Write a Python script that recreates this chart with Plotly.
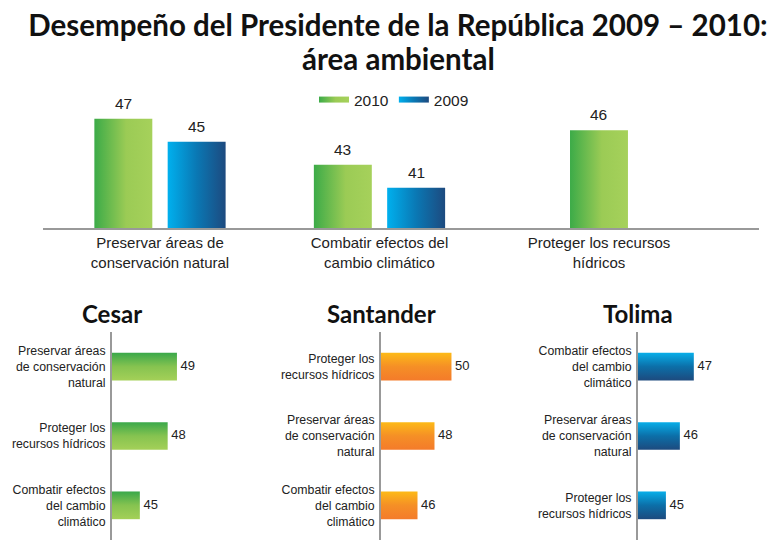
import plotly.graph_objects as go

# ---------------- data ----------------
TITLE_LINE1 = "Desempeño del Presidente de la República 2009 – 2010:"
TITLE_LINE2 = "área ambiental"

top_categories = [
    "Preservar áreas de<br>conservación natural",
    "Combatir efectos del<br>cambio climático",
    "Proteger los recursos<br>hídricos",
]
series_names = ["2010", "2009"]
top_2010 = [47, 43, 46]
top_2009 = [45, 41, None]

region_names = ["Cesar", "Santander", "Tolima"]
cesar_labels = ["Preservar áreas<br>de conservación<br>natural", "Proteger los<br>recursos hídricos",
                "Combatir efectos<br>del cambio<br>climático"]
cesar_values = [49, 48, 45]
santander_labels = ["Proteger los<br>recursos hídricos", "Preservar áreas<br>de conservación<br>natural",
                    "Combatir efectos<br>del cambio<br>climático"]
santander_values = [50, 48, 46]
tolima_labels = ["Combatir efectos<br>del cambio<br>climático", "Preservar áreas<br>de conservación<br>natural",
                 "Proteger los<br>recursos hídricos"]
tolima_values = [47, 46, 45]

# ---------------- styles ----------------
PAGE_OFFSET = 8          # default body margin of the html page
W, H = 775 - PAGE_OFFSET, 542 - PAGE_OFFSET
FONT = "Liberation Sans"
TITLE_FONT = "Lato"
AXIS_COLOR = "#999999"
TEXT_COLOR = "#222222"

GREEN_H = [[0, "#3cab48"], [0.55, "#9bcb55"], [1, "#a6d15b"]]
BLUE_H = [[0, "#00b0ee"], [0.5, "#0a78b4"], [1, "#1d4a7f"]]
GREEN_V = [[0, "#a4d058"], [0.5, "#86c350"], [1, "#3aa84a"]]
ORANGE_V = [[0, "#f47b2a"], [0.5, "#f58f26"], [1, "#fdba17"]]
BLUE_V = [[0, "#1d4a7e"], [0.5, "#0c6fa8"], [1, "#08aee9"]]

TOP_RANGE = [37.5, 48.98]
TOP_XRANGE = [-0.533, 2.729]
BAR_W = 0.264
GROUP_GAP = 0.07

sub_axis_px = [112, 381, 638]
sub_ranges = [[42.0, 51.7], [41.7, 52.3], [43.0, 49.45]]
sub_width_px = 90
sub_colors = [GREEN_V, ORANGE_V, BLUE_V]
BAR_H = 0.2


def px_x(p):
    return (p - PAGE_OFFSET) / W


def px_y(p):
    return 1 - (p - PAGE_OFFSET) / H


fig = go.Figure()

# ---------------- top grouped chart ----------------
series = [(series_names[0], top_2010, GREEN_H), (series_names[1], top_2009, BLUE_H)]
for si, (name, vals, cs) in enumerate(series):
    first = True
    for ci, v in enumerate(vals):
        if v is None:
            continue
        pair = top_2010[ci] is not None and top_2009[ci] is not None
        if pair:
            x0 = ci - BAR_W - GROUP_GAP / 2 if si == 0 else ci + GROUP_GAP / 2
        else:
            x0 = ci - BAR_W / 2
        x1 = x0 + BAR_W
        base = TOP_RANGE[0]
        fig.add_trace(go.Scatter(
            x=[x0, x1, x1, x0, x0], y=[base, base, v, v, base],
            fill="toself", mode="none", name=name, legendgroup=name,
            showlegend=first, hoverinfo="skip",
            fillgradient=dict(type="horizontal", colorscale=cs),
            xaxis="x", yaxis="y",
        ))
        first = False
        fig.add_annotation(x=(x0 + x1) / 2, y=v, xref="x", yref="y", text=str(v), showarrow=False,
                           xanchor="center", yanchor="bottom", yshift=5,
                           font=dict(family=FONT, size=15.5, color=TEXT_COLOR))

fig.update_layout(
    xaxis=dict(domain=[px_x(43), px_x(759)], range=TOP_XRANGE, showgrid=False, zeroline=False,
               showline=True, linecolor=AXIS_COLOR, linewidth=2,
               tickvals=list(range(len(top_categories))), ticktext=top_categories,
               tickfont=dict(family=FONT, size=15, color=TEXT_COLOR), ticks="", fixedrange=True),
    yaxis=dict(domain=[px_y(228), px_y(96)], range=TOP_RANGE, visible=False, fixedrange=True),
)

# ---------------- bottom regional charts ----------------
regions = [(cesar_labels, cesar_values), (santander_labels, santander_values), (tolima_labels, tolima_values)]
for k, (labels, vals) in enumerate(regions):
    xa = f"x{k + 2}"
    ya = f"y{k + 2}"
    n = len(vals)
    ypos = [n - 1 - i for i in range(n)]
    base = sub_ranges[k][0]
    for v, yp in zip(vals, ypos):
        fig.add_trace(go.Scatter(
            x=[base, v, v, base, base], y=[yp - BAR_H, yp - BAR_H, yp + BAR_H, yp + BAR_H, yp - BAR_H],
            fill="toself", mode="none", showlegend=False, hoverinfo="skip",
            fillgradient=dict(type="vertical", colorscale=sub_colors[k]),
            xaxis=xa, yaxis=ya,
        ))
    fig.add_trace(go.Scatter(
        x=vals, y=ypos, text=[" " + str(v) for v in vals], mode="text", textposition="middle right",
        textfont=dict(family=FONT, size=13, color=TEXT_COLOR), showlegend=False,
        cliponaxis=False, hoverinfo="skip", xaxis=xa, yaxis=ya,
    ))
    left = sub_axis_px[k]
    fig.update_layout({
        f"xaxis{k + 2}": dict(domain=[px_x(left), px_x(left + sub_width_px)], range=sub_ranges[k],
                             visible=False, anchor=ya, fixedrange=True),
        f"yaxis{k + 2}": dict(domain=[px_y(540), px_y(332)], range=[-0.5, n - 0.5], anchor=xa,
                             showgrid=False, zeroline=False, showline=True, linecolor=AXIS_COLOR,
                             linewidth=2, tickvals=ypos, ticktext=labels, ticks="outside",
                             ticklen=2, tickcolor="rgba(0,0,0,0)",
                             tickfont=dict(family=FONT, size=12.3, color=TEXT_COLOR), fixedrange=True),
    })
    fig.add_annotation(text=f"<b>{region_names[k]}</b>", x=px_x(left), y=px_y(313), xref="paper",
                       yref="paper", xanchor="center", yanchor="middle", showarrow=False,
                       font=dict(family=TITLE_FONT, size=24, color="#111111"))

fig.add_annotation(text=f"<b>{TITLE_LINE2}</b>", x=px_x(399), y=px_y(58), xref="paper", yref="paper",
                   xanchor="center", yanchor="middle", showarrow=False,
                   font=dict(family=TITLE_FONT, size=29.5, color="#111111"))

fig.update_layout(
    width=W, height=H,
    margin=dict(l=0, r=0, t=0, b=0),
    paper_bgcolor="white", plot_bgcolor="white",
    title=dict(text=f"<b>{TITLE_LINE1}</b>", x=px_x(398), xanchor="center", y=px_y(26), yanchor="middle",
               font=dict(family=TITLE_FONT, size=29.5, color="#111111")),
    legend=dict(orientation="h", x=px_x(314), xanchor="left", y=px_y(100), yanchor="middle",
                font=dict(family=FONT, size=15.5, color=TEXT_COLOR), bgcolor="rgba(0,0,0,0)",
                itemwidth=30, tracegroupgap=0),
    showlegend=True,
)

fig.write_html("out.html")
